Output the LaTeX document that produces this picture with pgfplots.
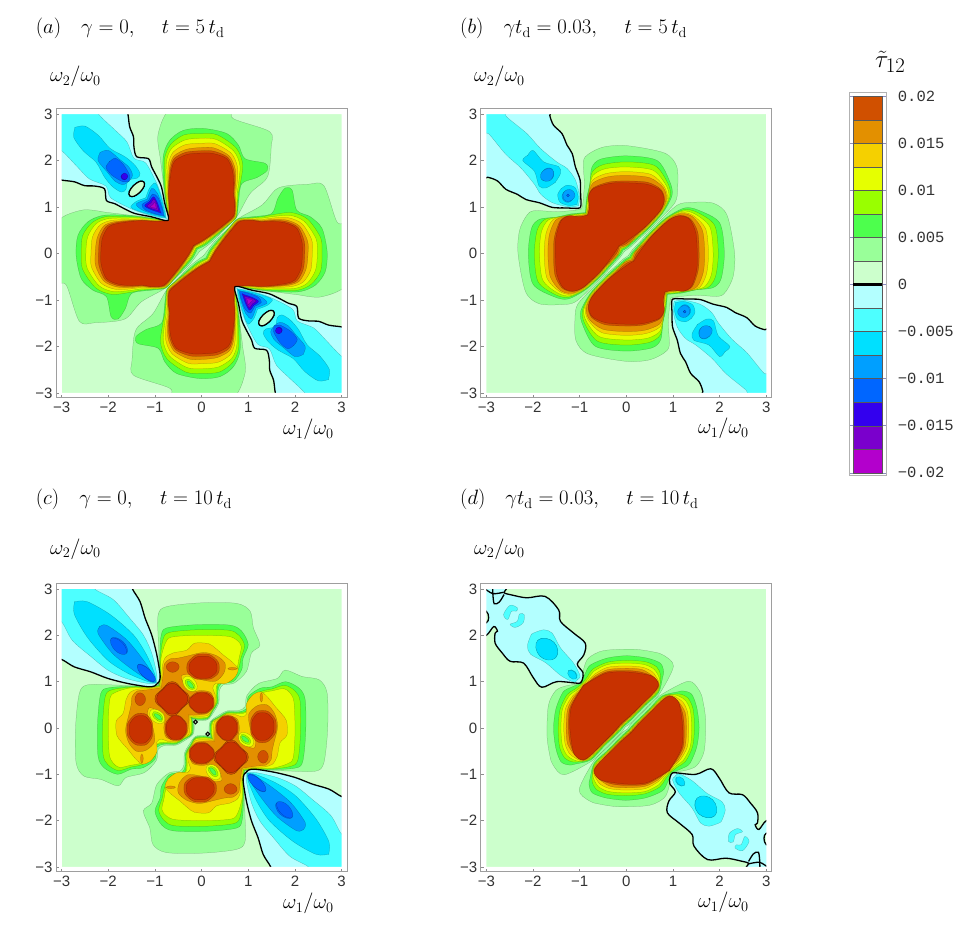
\documentclass[border=0pt]{standalone}
\usepackage[no-math]{fontspec}
\setmainfont{Liberation Sans}
\setmonofont{Liberation Mono}
\usepackage{pgfplots}
\usepackage{pgfplotstable}
\pgfplotsset{compat=1.18}

\definecolor{bg}{HTML}{CCFFCC}
\definecolor{p1}{HTML}{99FF99}
\definecolor{p2}{HTML}{4DFF4D}
\definecolor{p3}{HTML}{99FF00}
\definecolor{p4}{HTML}{E6FF00}
\definecolor{p5}{HTML}{F5D000}
\definecolor{p6}{HTML}{E39000}
\definecolor{p7}{HTML}{D05000}
\definecolor{p8}{HTML}{C83200}
\definecolor{n0}{HTML}{B3FFFF}
\definecolor{n1}{HTML}{4DFFFF}
\definecolor{n2}{HTML}{00E0FF}
\definecolor{n3}{HTML}{009FFF}
\definecolor{n4}{HTML}{0066FF}
\definecolor{n5}{HTML}{3300EE}
\definecolor{n6}{HTML}{7A00CC}
\definecolor{n7}{HTML}{B300CC}

\newcommand\T[2]{\pgfplotstableread[row sep=crcr]{x y\\#2}#1}

% panel a: contour arcs, from the centre out to the notch
\T\aPa{-0.05 0.04\\0.06 0.12\\0.25 0.27\\0.5 0.53\\0.76 0.8\\1.04 1.29\\1.36 1.57\\1.45 1.79\\1.49 2.29\\1.46 2.62\\0.68 2.9\\0.57 3.15\\-0.6 3.15\\-0.93 2.58\\-0.88 2.0\\-0.82 1.5\\-0.77 0.95\\-0.73 0.72\\}
\T\aPb{-0.1 0.09\\0.1 0.19\\0.38 0.43\\0.6 0.63\\0.75 0.78\\0.79 1.08\\0.86 1.5\\1.18 1.63\\1.41 1.79\\1.36 1.94\\0.93 2.04\\0.79 2.33\\0.54 2.58\\0.04 2.69\\-0.39 2.65\\-0.68 2.44\\-0.82 2.11\\-0.82 1.58\\-0.75 1.0\\-0.72 0.71\\}
\T\aPc{-0.12 0.11\\0.08 0.21\\0.35 0.43\\0.59 0.63\\0.74 0.78\\0.77 1.08\\0.79 1.3\\0.83 1.5\\0.88 1.92\\0.74 2.27\\0.34 2.55\\0 2.58\\-0.38 2.55\\-0.66 2.35\\-0.79 2.06\\-0.79 1.6\\-0.78 1.3\\-0.74 1.0\\-0.71 0.7\\}
\T\aPd{-0.13 0.12\\0.07 0.23\\0.33 0.43\\0.58 0.63\\0.73 0.78\\0.76 1.08\\0.76 1.3\\0.79 1.5\\0.82 1.89\\0.69 2.2\\0.32 2.45\\0 2.48\\-0.36 2.44\\-0.64 2.26\\-0.75 2.0\\-0.76 1.59\\-0.76 1.3\\-0.73 1.0\\-0.71 0.7\\}
\T\aPe{-0.15 0.14\\0.06 0.25\\0.32 0.44\\0.57 0.64\\0.72 0.79\\0.74 1.07\\0.73 1.29\\0.76 1.5\\0.77 1.85\\0.64 2.15\\0.29 2.36\\0 2.37\\-0.35 2.34\\-0.61 2.18\\-0.71 1.94\\-0.73 1.59\\-0.74 1.3\\-0.71 1.0\\-0.71 0.7\\}
\T\aPf{-0.16 0.15\\0.05 0.27\\0.31 0.45\\0.56 0.65\\0.71 0.8\\0.73 1.07\\0.71 1.29\\0.73 1.5\\0.72 1.82\\0.59 2.1\\0.27 2.27\\0 2.28\\-0.33 2.24\\-0.59 2.1\\-0.68 1.89\\-0.71 1.58\\-0.72 1.3\\-0.70 1.0\\-0.71 0.7\\}
\T\aPg{-0.17 0.16\\0.05 0.28\\0.3 0.46\\0.55 0.66\\0.7 0.81\\0.72 1.07\\0.69 1.29\\0.71 1.5\\0.69 1.8\\0.56 2.07\\0.26 2.2\\0 2.21\\-0.33 2.18\\-0.58 2.05\\-0.66 1.86\\-0.7 1.58\\-0.71 1.29\\-0.7 1.0\\-0.71 0.7\\}
\T\aPh{-0.18 0.17\\0.05 0.3\\0.3 0.48\\0.55 0.68\\0.69 0.82\\0.71 1.07\\0.68 1.29\\0.69 1.5\\0.66 1.79\\0.54 2.04\\0.25 2.15\\0 2.16\\-0.32 2.13\\-0.57 2.0\\-0.64 1.83\\-0.68 1.58\\-0.71 1.29\\-0.69 1.0\\-0.71 0.7\\}
\T\aZ{-0.72 0.71\\-0.71 0.79\\-0.79 1.08\\-0.86 1.43\\-0.96 1.65\\-1.07 1.86\\-1.14 2.04\\-1.39 2.08\\-1.45 2.29\\-1.46 2.51\\-1.54 2.72\\-1.57 2.94\\-1.59 3.08\\-1.59 3.2\\-3.21 3.2\\}
\T\aNa{-0.76 0.74\\-0.78 0.95\\-0.88 1.3\\-0.98 1.55\\-1.2 1.95\\-1.45 2.05\\-1.6 2.4\\-1.85 2.65\\-2.21 3.0\\-2.25 3.2\\-3.21 3.2\\}
\T\aNbU{-2.72 2.71\\-2.5 2.74\\-2.21 2.54\\-1.96 2.26\\-1.64 2.08\\-1.43 1.9\\-1.32 1.72\\-1.38 1.62\\-1.6 1.59\\}
\T\aNbL{-1.2 1.19\\-1.12 1.4\\-1.0 1.52\\-0.93 1.4\\-0.85 1.15\\-0.78 0.85\\-0.77 0.76\\}
\T\aNcU{-2.18 2.17\\-2.0 2.22\\-1.75 2.02\\-1.55 1.85\\-1.48 1.68\\-1.56 1.55\\}
\T\aNcL{-1.17 1.16\\-1.07 1.4\\-0.95 1.3\\-0.85 1.05\\-0.8 0.82\\-0.79 0.78\\}
\T\aNdU{-1.98 1.97\\-1.85 2.05\\-1.68 1.92\\-1.54 1.68\\-1.56 1.55\\}
\T\aNdL{-1.14 1.13\\-1.05 1.28\\-0.93 1.2\\-0.83 0.92\\-0.82 0.81\\}
\T\aNeU{-1.73 1.65\\-1.66 1.72\\-1.59 1.65\\-1.66 1.58\\}
\T\aNeL{-1.12 1.11\\-1.03 1.22\\-0.95 1.1\\-0.88 0.9\\-0.87 0.86\\}
\T\aNfL{-1.09 1.08\\-1.02 1.17\\-0.96 1.06\\-0.92 0.91\\-0.91 0.9\\}
\T\aNgL{-1.05 1.04\\-1.0 1.1\\-0.98 1.0\\-0.97 0.96\\}
\T\aIs{-1.54 1.24\\-1.45 1.23\\-1.32 1.32\\-1.23 1.45\\-1.24 1.54\\-1.33 1.55\\-1.46 1.46\\-1.55 1.33\\}

% panel b
\T\bPa{-0.05 0.04\\0.08 0.13\\0.25 0.29\\0.42 0.44\\0.66 0.68\\1.04 1.09\\1.1 1.4\\1.08 1.87\\0.82 2.16\\0.01 2.32\\-0.49 2.29\\-0.81 2.14\\-0.92 1.98\\-0.9 1.5\\-0.93 1.1\\-0.96 0.95\\}
\T\bPb{-0.08 0.07\\0.02 0.12\\0.3 0.37\\0.5 0.56\\0.78 0.87\\0.98 1.25\\0.93 1.55\\0.66 2.0\\0.01 2.1\\-0.55 2.03\\-0.74 1.85\\-0.78 1.5\\-0.85 1.2\\-0.88 0.87\\}
\T\bPc{-0.1 0.09\\0 0.14\\0.28 0.38\\0.49 0.57\\0.77 0.88\\0.94 1.23\\0.89 1.51\\0.61 1.89\\0.01 1.97\\-0.5 1.91\\-0.73 1.75\\-0.79 1.44\\-0.84 1.16\\-0.87 0.86\\}
\T\bPd{-0.12 0.11\\0.01 0.16\\0.27 0.39\\0.48 0.58\\0.76 0.89\\0.91 1.21\\0.85 1.47\\0.57 1.79\\0.01 1.86\\-0.46 1.82\\-0.72 1.67\\-0.79 1.38\\-0.83 1.12\\-0.86 0.85\\}
\T\bPe{-0.13 0.12\\0.02 0.18\\0.26 0.4\\0.47 0.59\\0.75 0.9\\0.88 1.19\\0.81 1.44\\0.53 1.7\\0.01 1.76\\-0.43 1.72\\-0.72 1.58\\-0.8 1.33\\-0.81 1.08\\-0.85 0.84\\}
\T\bPf{-0.14 0.13\\0.03 0.19\\0.25 0.41\\0.46 0.6\\0.74 0.91\\0.86 1.18\\0.79 1.42\\0.5 1.63\\0.01 1.68\\-0.4 1.65\\-0.71 1.52\\-0.8 1.3\\-0.81 1.05\\-0.84 0.83\\}
\T\bPg{-0.16 0.15\\0 0.21\\0.24 0.42\\0.45 0.61\\0.73 0.92\\0.82 1.16\\0.74 1.38\\0.46 1.53\\0.01 1.56\\-0.36 1.54\\-0.7 1.42\\-0.81 1.24\\-0.79 1.0\\-0.83 0.82\\}
\T\bPh{-0.17 0.16\\-0.06 0.22\\0.23 0.43\\0.44 0.61\\0.73 0.93\\0.81 1.15\\0.73 1.36\\0.44 1.49\\0.01 1.52\\-0.34 1.51\\-0.7 1.4\\-0.81 1.22\\-0.79 1.0\\-0.83 0.82\\}
\T\bZ{-0.99 0.98\\-0.97 1.05\\-0.98 1.3\\-0.99 1.58\\-1.09 1.86\\-1.16 2.15\\-1.27 2.33\\-1.38 2.58\\-1.56 2.76\\-1.64 2.97\\-1.66 3.2\\-3.21 3.2\\}
\T\bNa{-1.03 1.02\\-1.0 1.22\\-1.09 1.58\\-1.27 1.83\\-1.49 1.97\\-1.84 2.26\\-2.13 2.58\\-2.52 2.9\\-2.59 2.99\\-2.6 3.2\\-3.21 3.2\\}
\T\bNbU{-2.12 2.1\\-2.0 2.22\\-1.77 1.97\\-1.45 1.87\\-1.41 1.72\\-1.53 1.52\\}
\T\bNbL{-1.4 1.39\\-1.27 1.47\\-1.1 1.42\\-1.03 1.22\\-1.06 1.05\\}
\T\bNcU{-1.8 1.58\\-1.78 1.78\\-1.6 1.82\\-1.58 1.62\\}
\T\bNcL{-1.38 1.22\\-1.26 1.36\\-1.12 1.26\\-1.24 1.1\\}
\T\bNd{-1.28 1.25\\-1.25 1.28\\-1.22 1.25\\-1.25 1.22\\}

% panel c
\T\cPa{-0.21 0.2\\-0.1 0.16\\0.13 0.18\\0.27 0.36\\0.37 0.55\\0.38 0.8\\0.46 0.93\\0.7 0.97\\0.96 1.22\\1.07 1.62\\1.25 1.79\\1.11 2.16\\1.04 2.52\\0.75 2.69\\-0.04 2.7\\-0.75 2.62\\-0.93 2.45\\-0.93 1.9\\-0.91 1.4\\-0.91 1.0\\-0.94 0.92\\}
\T\cPb{-0.23 0.22\\-0.1 0.18\\0.13 0.2\\0.25 0.38\\0.35 0.55\\0.35 0.8\\0.42 0.96\\0.68 1.0\\0.86 1.26\\0.89 1.51\\1.0 1.8\\0.86 2.09\\0.61 2.22\\-0.11 2.23\\-0.75 2.16\\-0.87 1.98\\-0.9 1.5\\-0.9 1.15\\-0.92 0.91\\}
\T\cPc{-0.24 0.23\\-0.1 0.2\\0.13 0.22\\0.24 0.39\\0.33 0.55\\0.33 0.8\\0.38 0.97\\0.65 1.03\\0.8 1.3\\0.84 1.5\\0.92 1.78\\0.8 2.0\\0.58 2.11\\-0.1 2.12\\-0.7 2.06\\-0.83 1.9\\-0.885 1.5\\-0.885 1.15\\-0.91 0.9\\}
\T\cPd{-0.25 0.24\\-0.1 0.22\\0.13 0.24\\0.23 0.4\\0.31 0.55\\0.31 0.8\\0.34 0.95\\0.6 1.0\\0.76 1.3\\0.8 1.5\\0.85 1.76\\0.75 1.9\\0.55 1.98\\-0.1 2.0\\-0.65 1.96\\-0.78 1.82\\-0.87 1.5\\-0.87 1.15\\-0.9 0.89\\}
\T\cPe{-0.27 0.26\\-0.1 0.25\\0.13 0.27\\0.22 0.41\\0.29 0.52\\0.29 0.72\\0.24 0.86\\0.3 0.96\\0.52 0.96\\0.72 1.1\\0.78 1.27\\0.66 1.42\\0.46 1.58\\0.3 1.72\\0.15 1.82\\-0.15 1.83\\-0.32 1.68\\-0.61 1.62\\-0.78 1.52\\-0.84 1.35\\-0.85 1.15\\-0.89 0.88\\}
\T\cPf{-0.29 0.28\\-0.11 0.28\\0.13 0.32\\0.26 0.53\\0.2 0.76\\-0.01 0.81\\-0.21 0.79\\-0.39 0.97\\-0.43 1.13\\-0.25 1.15\\0 1.04\\0.3 1.01\\0.48 1.19\\0.5 1.4\\0.32 1.56\\0.04 1.63\\-0.32 1.55\\-0.5 1.51\\-0.68 1.49\\-0.8 1.38\\-0.82 1.19\\-0.87 0.86\\}
\T\cIa{-0.4 1.06\\-0.2 1.08\\-0.1 0.85\\-0.3 0.82\\}
\T\cIb{-0.35 1.03\\-0.22 1.02\\-0.14 0.86\\-0.28 0.86\\}
\T\cIc{-0.31 1.0\\-0.24 0.99\\-0.17 0.87\\-0.26 0.89\\}
\T\cDa{-1.0 0.63\\-0.84 0.84\\-0.63 1.0\\-0.42 0.84\\-0.26 0.63\\-0.42 0.42\\-0.63 0.26\\-0.84 0.42\\}
\T\cRa{-0.96 0.63\\-0.83 0.83\\-0.63 0.96\\-0.43 0.83\\-0.3 0.63\\-0.43 0.43\\-0.63 0.3\\-0.83 0.43\\}
\T\cDb{-0.28 0.56\\-0.18 0.72\\0 0.78\\0.2 0.72\\0.27 0.54\\0.19 0.38\\0 0.31\\-0.18 0.38\\}
\T\cRb{-0.27 0.56\\-0.17 0.7\\0 0.76\\0.18 0.7\\0.25 0.54\\0.17 0.39\\0 0.33\\-0.17 0.39\\}
\T\cDc{-0.32 1.3\\-0.2 1.52\\0.03 1.6\\0.27 1.52\\0.38 1.3\\0.27 1.1\\0.03 1.05\\-0.2 1.1\\}
\T\cRc{-0.27 1.3\\-0.17 1.49\\0.03 1.55\\0.24 1.49\\0.33 1.3\\0.24 1.13\\0.03 1.07\\-0.17 1.13\\}
\T\cDd{-0.76 1.32\\-0.62 1.43\\-0.48 1.32\\-0.62 1.2\\}
\T\cEe{0.56 1.28\\0.66 1.31\\0.76 1.28\\0.66 1.25\\}
\T\cZ{-0.97 0.95\\-0.91 1.0\\-0.89 1.15\\-0.96 1.58\\-1.07 2.01\\-1.21 2.37\\-1.32 2.73\\-1.48 3.0\\-1.5 3.2\\-3.21 3.2\\}
\T\cNa{-0.97 0.96\\-0.96 1.15\\-1.07 1.62\\-1.25 2.01\\-1.54 2.37\\-1.89 2.77\\-2.29 3.0\\-2.31 3.2\\-3.21 3.2\\}
\T\cNb{-0.98 0.97\\-1.0 1.15\\-1.18 1.58\\-1.46 2.01\\-1.96 2.45\\-2.46 2.73\\-2.73 2.72\\}
\T\cNc{-1.0 0.99\\-1.0 1.08\\-1.25 1.47\\-1.61 1.91\\-2.04 2.22\\-2.19 2.18\\}
\T\cNda{-1.93 1.94\\-1.68 1.86\\-1.6 1.62\\-1.84 1.7\\}
\T\cNdb{-1.36 1.37\\-1.12 1.26\\-1.02 1.0\\-1.26 1.12\\}
\T\cDot{-0.17 0.13\\-0.13 0.17\\-0.09 0.13\\-0.13 0.09\\}

% panel d
\T\dPa{-0.03 0.02\\0.1 0.11\\0.4 0.41\\0.7 0.72\\1.01 1.33\\0.8 1.57\\0.59 1.64\\0.16 1.7\\-0.49 1.67\\-0.81 1.51\\-0.91 1.29\\-0.95 1.05\\-0.98 0.97\\}
\T\dPb{-0.05 0.04\\0.1 0.17\\0.4 0.48\\0.69 0.76\\0.78 1.1\\0.8 1.22\\0.73 1.4\\0.44 1.51\\0.01 1.56\\-0.41 1.51\\-0.77 1.36\\-0.88 1.18\\-0.97 0.96\\}
\T\dPc{-0.06 0.05\\0.1 0.2\\0.4 0.5\\0.68 0.78\\0.73 1.02\\0.73 1.16\\0.65 1.32\\0.41 1.43\\0.01 1.46\\-0.4 1.42\\-0.72 1.27\\-0.84 1.1\\-0.96 0.95\\}
\T\dPd{-0.07 0.06\\0.1 0.22\\0.38 0.5\\0.67 0.8\\0.72 1.0\\0.68 1.14\\0.59 1.27\\0.38 1.37\\0.01 1.4\\-0.4 1.37\\-0.7 1.22\\-0.81 1.07\\-0.95 0.94\\}
\T\dPe{-0.08 0.07\\0.1 0.24\\0.36 0.49\\0.67 0.82\\0.7 0.99\\0.63 1.12\\0.55 1.22\\0.35 1.31\\0.01 1.34\\-0.4 1.31\\-0.68 1.16\\-0.8 1.04\\-0.94 0.93\\}
\T\dPf{-0.09 0.08\\0.1 0.25\\0.34 0.49\\0.66 0.83\\0.69 0.98\\0.58 1.11\\0.34 1.26\\0.01 1.29\\-0.4 1.26\\-0.68 1.12\\-0.78 1.02\\-0.93 0.92\\}
\T\dPg{-0.1 0.09\\0.1 0.27\\0.32 0.49\\0.66 0.85\\0.68 0.98\\0.55 1.12\\0.3 1.21\\0.01 1.24\\-0.4 1.22\\-0.7 1.07\\-0.925 0.915\\}
\T\dPh{-0.11 0.1\\0.1 0.28\\0.3 0.48\\0.55 0.72\\0.66 0.86\\0.68 0.98\\0.53 1.13\\0.01 1.21\\-0.41 1.19\\-0.7 1.05\\-0.92 0.91\\}
\T\dZ{-0.99 0.97\\-0.94 1.05\\-0.93 1.2\\-1.05 1.38\\-0.91 1.58\\-0.88 1.83\\-1.13 2.05\\-1.41 2.3\\-1.45 2.55\\-1.74 2.84\\-2.13 2.81\\-2.45 2.87\\-2.62 2.92\\-2.57 3.0\\-2.55 3.2\\-3.2 3.2\\-3.2 2.52\\-3.0 2.52\\-2.95 2.38\\-3.0 2.27\\-3.2 2.27\\-3.2 2.02\\-3.0 2.0\\-2.84 2.19\\-2.76 2.09\\-2.81 2.05\\-2.81 1.83\\-2.66 1.62\\-2.49 1.44\\-2.2 1.4\\-1.99 1.08\\-1.81 0.88\\-1.49 1.0\\-1.09 0.97\\}
\T\dZx{-3.05 3.02\\-2.86 2.9\\-2.63 2.93\\}
\T\dZy{-2.86 3.05\\-2.86 2.9\\-2.83 2.68\\-2.72 2.72\\-2.62 2.88\\}
\T\dNa{-1.07 1.03\\-0.99 1.12\\-1.13 1.4\\-1.41 1.73\\-1.59 2.05\\-1.77 2.12\\-1.99 2.05\\-2.03 2.02\\}
\T\dNb{-1.89 1.9\\-1.55 1.85\\-1.51 1.52\\-1.85 1.55\\}
\T\dNc{-1.24 1.24\\-1.1 1.22\\-1.06 1.08\\-1.2 1.1\\}
\T\dArcA{-2.63 2.45\\-2.49 2.65\\-2.33 2.59\\-2.36 2.52\\-2.46 2.52\\-2.54 2.34\\}
\T\dArcB{-2.19 2.45\\-2.21 2.27\\-2.38 2.17\\-2.49 2.24\\-2.34 2.3\\-2.29 2.46\\}

\pgfplotsset{
  panel/.style={
    anchor=south west, scale only axis,
    xmin=-3.12, xmax=3.115, ymin=-3.108, ymax=3.108,
    axis on top, clip=true,
    axis line style={draw=black!38, line width=1pt},
    xtick={-3,-2,-1,0,1,2,3}, xticklabels={−3,−2,−1,0,1,2,3},
    ytick={-3,-2,-1,0,1,2,3}, yticklabels={−3,−2,−1,0,1,2,3},
    tick style={draw=black!45, line width=.5pt},
    major tick length=3pt, tick align=inside,
    xtick pos=bottom, ytick pos=left,
    tick label style={font=\fontsize{15}{15}\selectfont, text=black!80, inner sep=3.3pt},
    xticklabel style={yshift=-1pt},
  },
  lev/.style={fill=#1, draw=black, draw opacity=.3, line width=.25pt, smooth},
  spot/.style={fill=#1, draw=black, draw opacity=.3, line width=.25pt, smooth cycle, tension=.9},
  zero/.style={fill=n0, draw=black, line width=1.3pt, smooth},
  hard/.style={draw=black, draw opacity=1, line width=#1},
}
% one arc or spot in its four symmetric places
\newcommand\four[2]{%
  \addplot[#1] table[x=x,y=y]{#2};
  \addplot[#1] table[x expr=-\thisrow{y},y expr=-\thisrow{x}]{#2};
  \addplot[#1] table[x expr=-\thisrow{x},y expr=-\thisrow{y}]{#2};
  \addplot[#1] table[x expr=\thisrow{y},y expr=\thisrow{x}]{#2};
}
\newcommand\two[2]{%
  \addplot[#1] table[x=x,y=y]{#2};
  \addplot[#1] table[x expr=-\thisrow{x},y expr=-\thisrow{y}]{#2};
}
\newcommand\back{\addplot[fill=bg,draw=none] coordinates {(-3,-3)(3,-3)(3,3)(-3,3)} -- cycle;}
\newcommand\mask{\fill[white,even odd rule] (axis cs:-3.3,-3.3) rectangle (axis cs:3.3,3.3) (axis cs:-3,-3) rectangle (axis cs:3,3);}
\newcommand\ttl[1]{\fontsize{20.74}{24}\selectfont$#1$}

\begin{document}
\begin{tikzpicture}[x=1pt,y=1pt,every node/.append style={inner sep=0pt}]
\path[use as bounding box] (0,0) rectangle (969,925);

\begin{axis}[panel, at={(56pt,527pt)}, width=291pt, height=289pt]
  \back
  \four{lev=p1}{\aPa}\four{lev=p2}{\aPb}\four{lev=p3}{\aPc}\four{lev=p4}{\aPd}
  \four{lev=p5}{\aPe}\four{lev=p6}{\aPf}\four{lev=p7}{\aPg}\four{lev=p8}{\aPh}
  \four{zero}{\aZ}
  \four{lev=n1}{\aNa}
  \four{lev=n2}{\aNbU}\four{lev=n2}{\aNbL}
  \four{lev=n3}{\aNcU}\four{lev=n3}{\aNcL}
  \four{lev=n4}{\aNdU}\four{lev=n4}{\aNdL}
  \four{spot=n5}{\aNeU}\four{lev=n5}{\aNeL}
  \four{lev=n6}{\aNfL}\four{lev=n7}{\aNgL}
  \four{spot=bg,hard=1.2pt,tension=.55}{\aIs}
  \mask
\end{axis}

\begin{axis}[panel, at={(480.7pt,527pt)}, width=291pt, height=289pt]
  \back
  \four{lev=p1}{\bPa}\four{lev=p2}{\bPb}\four{lev=p3}{\bPc}\four{lev=p4}{\bPd}
  \four{lev=p5}{\bPe}\four{lev=p6}{\bPf}\four{lev=p7}{\bPg}\four{lev=p8}{\bPh}
  \four{zero}{\bZ}
  \four{lev=n1}{\bNa}
  \four{lev=n2}{\bNbU}\four{lev=n2}{\bNbL}
  \four{spot=n3}{\bNcU}\four{spot=n3}{\bNcL}
  \four{spot=n4}{\bNd}
  \mask
\end{axis}

\begin{axis}[panel, at={(56pt,53pt)}, width=291pt, height=288pt]
  \back
  \four{lev=p1}{\cPa}\four{lev=p2}{\cPb}\four{lev=p3}{\cPc}\four{lev=p4}{\cPd}
  \four{lev=p5}{\cPe}\four{spot=p6}{\cEe}\four{lev=p6}{\cPf}
  \four{spot=p4}{\cIa}\four{spot=p3}{\cIb}\four{spot=p2}{\cIc}
  \four{spot=p7}{\cDa}\four{spot=p7}{\cDb}\four{spot=p7}{\cDc}\four{spot=p7}{\cDd}
  \four{spot=p8}{\cRa}\four{spot=p8}{\cRb}\four{spot=p8}{\cRc}
  \four{zero}{\cZ}
  \four{lev=n1}{\cNa}\four{lev=n2}{\cNb}\four{lev=n3}{\cNc}
  \four{spot=n4}{\cNda}\four{spot=n4}{\cNdb}
  \two{spot=bg,hard=1.1pt}{\cDot}
  \mask
\end{axis}

\begin{axis}[panel, at={(480.7pt,53pt)}, width=291pt, height=288pt]
  \back
  \four{lev=p1}{\dPa}\four{lev=p2}{\dPb}\four{lev=p3}{\dPc}\four{lev=p4}{\dPd}
  \four{lev=p5}{\dPe}\four{lev=p6}{\dPf}\four{lev=p7}{\dPg}\four{lev=p8}{\dPh}
  \two{spot=n0,hard=1.3pt,tension=.55}{\dZ}
  \two{no markers,draw=black,line width=1.3pt,smooth}{\dZx}
  \two{no markers,draw=black,line width=1.3pt,smooth}{\dZy}
  \four{lev=n1}{\dNa}
  \four{spot=n2}{\dNb}\four{spot=n2}{\dNc}
  \two{spot=n1,tension=.55}{\dArcA}\two{spot=n1,tension=.55}{\dArcB}
  \mask
\end{axis}

% colour key
\begin{axis}[anchor=south west, at={(849pt,449pt)}, scale only axis,
    width=37.7pt, height=383pt,
    xmin=-0.14, xmax=1.16, ymin=-0.02034, ymax=0.02034, axis on top,
    axis line style={draw=black!30, line width=1pt},
    xtick=\empty, scaled y ticks=false,
    ytick={-0.02,-0.015,-0.01,-0.005,0,0.005,0.01,0.015,0.02},
    yticklabels={−0.02,−0.015,−0.01,−0.005,0,0.005,0.01,0.015,0.02},
    tick style={draw=blue!45!black!45, line width=.5pt},
    major tick length=4pt, tick align=inside, ytick pos=both,
    yticklabel pos=right,
    yticklabel style={anchor=west, xshift=11pt, font=\ttfamily\fontsize{15.5}{15.5}\selectfont, text=black!80},
  ]
  \pgfplotsset{cell/.style={fill=#1, draw=black!65, line width=.4pt}}
  \addplot[cell=p7] coordinates {(0,0.02)(1,0.02)(1,0.0175)(0,0.0175)} -- cycle;
  \addplot[cell=p6] coordinates {(0,0.0175)(1,0.0175)(1,0.015)(0,0.015)} -- cycle;
  \addplot[cell=p5] coordinates {(0,0.015)(1,0.015)(1,0.0125)(0,0.0125)} -- cycle;
  \addplot[cell=p4] coordinates {(0,0.0125)(1,0.0125)(1,0.01)(0,0.01)} -- cycle;
  \addplot[cell=p3] coordinates {(0,0.01)(1,0.01)(1,0.0075)(0,0.0075)} -- cycle;
  \addplot[cell=p2] coordinates {(0,0.0075)(1,0.0075)(1,0.005)(0,0.005)} -- cycle;
  \addplot[cell=p1] coordinates {(0,0.005)(1,0.005)(1,0.0025)(0,0.0025)} -- cycle;
  \addplot[cell=bg] coordinates {(0,0.0025)(1,0.0025)(1,0)(0,0)} -- cycle;
  \addplot[cell=n0] coordinates {(0,0)(1,0)(1,-0.0025)(0,-0.0025)} -- cycle;
  \addplot[cell=n1] coordinates {(0,-0.0025)(1,-0.0025)(1,-0.005)(0,-0.005)} -- cycle;
  \addplot[cell=n2] coordinates {(0,-0.005)(1,-0.005)(1,-0.0075)(0,-0.0075)} -- cycle;
  \addplot[cell=n3] coordinates {(0,-0.0075)(1,-0.0075)(1,-0.01)(0,-0.01)} -- cycle;
  \addplot[cell=n4] coordinates {(0,-0.01)(1,-0.01)(1,-0.0125)(0,-0.0125)} -- cycle;
  \addplot[cell=n5] coordinates {(0,-0.0125)(1,-0.0125)(1,-0.015)(0,-0.015)} -- cycle;
  \addplot[cell=n6] coordinates {(0,-0.015)(1,-0.015)(1,-0.0175)(0,-0.0175)} -- cycle;
  \addplot[cell=n7] coordinates {(0,-0.0175)(1,-0.0175)(1,-0.02)(0,-0.02)} -- cycle;
  \addplot[draw=black, line width=3.5pt] coordinates {(0,0)(1,0)};
\end{axis}

\node[anchor=base west] at (35.7,891) {\ttl{(a)\hspace{20pt}\gamma=0,\hspace{24pt}t=5\,t_{\mathrm{d}}}};
\node[anchor=base west] at (460,891) {\ttl{(b)\hspace{20pt}\gamma t_{\mathrm{d}}=0.03,\hspace{24pt}t=5\,t_{\mathrm{d}}}};
\node[anchor=base west] at (35.7,420) {\ttl{(c)\hspace{20pt}\gamma=0,\hspace{24pt}t=10\,t_{\mathrm{d}}}};
\node[anchor=base west] at (460,420) {\ttl{(d)\hspace{20pt}\gamma t_{\mathrm{d}}=0.03,\hspace{24pt}t=10\,t_{\mathrm{d}}}};
\node[anchor=base west] at (50,843) {\ttl{\omega_2/\omega_0}};
\node[anchor=base west] at (474,843) {\ttl{\omega_2/\omega_0}};
\node[anchor=base west] at (50,370.5) {\ttl{\omega_2/\omega_0}};
\node[anchor=base west] at (474,370.5) {\ttl{\omega_2/\omega_0}};
\node[anchor=base west] at (283,490) {\ttl{\omega_1/\omega_0}};
\node[anchor=base west] at (698,491) {\ttl{\omega_1/\omega_0}};
\node[anchor=base west] at (283,16) {\ttl{\omega_1/\omega_0}};
\node[anchor=base west] at (698,17) {\ttl{\omega_1/\omega_0}};
\node[anchor=base west] at (875,857) {\fontsize{24.88}{28}\selectfont$\tilde\tau_{12}$};
\end{tikzpicture}
\end{document}
